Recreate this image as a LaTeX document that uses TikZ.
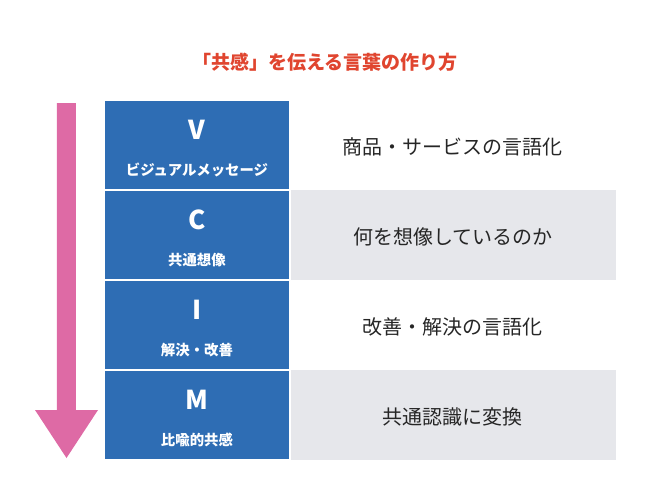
\documentclass[tikz,border=0pt]{standalone}
\usepackage{fontspec}
\setmainfont{Noto Sans CJK JP}
\definecolor{cvblue}{HTML}{2E6DB4}
\definecolor{cvgray}{HTML}{E6E7EB}
\definecolor{cvred}{HTML}{E0452F}
\definecolor{cvpink}{HTML}{DE6AA5}
\tikzset{
	keycell/.style={fill=cvblue, draw=white, line width=0.6pt},
	letter/.style={text=white, font=\fontsize{13}{15}\selectfont\bfseries},
	subname/.style={text=white, font=\fontsize{7.2}{9}\selectfont\bfseries},
	desc/.style={text=black!85, font=\fontsize{10}{12}\selectfont},
}
\begin{document}
\begin{tikzpicture}[x=0.5pt, y=-0.5pt]

	\useasboundingbox (0,0) rectangle (650,500);

	\node[text=cvred, font=\fontsize{9.5}{11}\selectfont\bfseries] (title) at (325,62) {「共感」を伝える言葉の作り方};

	% arrow
	\fill[cvpink] (57,103) -- (76,103) -- (76,410) -- (98,410) -- (66.5,458) -- (35,410) -- (57,410) -- cycle;

	% right column
	\fill[cvgray] (290,190) rectangle (616,280);
	\fill[cvgray] (290,370) rectangle (616,460);

	% left column
	\foreach \y/\l/\s/\d in {100/V/ビジュアルメッセージ/商品・サービスの言語化,
		190/C/共通想像/何を想像しているのか,
		280/I/解決・改善/改善・解決の言語化,
		370/M/比喩的共感/共通認識に変換}{
		\draw[keycell] (104,\y) rectangle (290,\y+90);
		\node[letter] (key\l) at (197,\y+30) {\l};
		\node[subname] (sub\l) at (197,\y+70) {\s};
		\node[desc] (desc\l) at (453,\y+47) {\d};
	}

\end{tikzpicture}
\end{document}
